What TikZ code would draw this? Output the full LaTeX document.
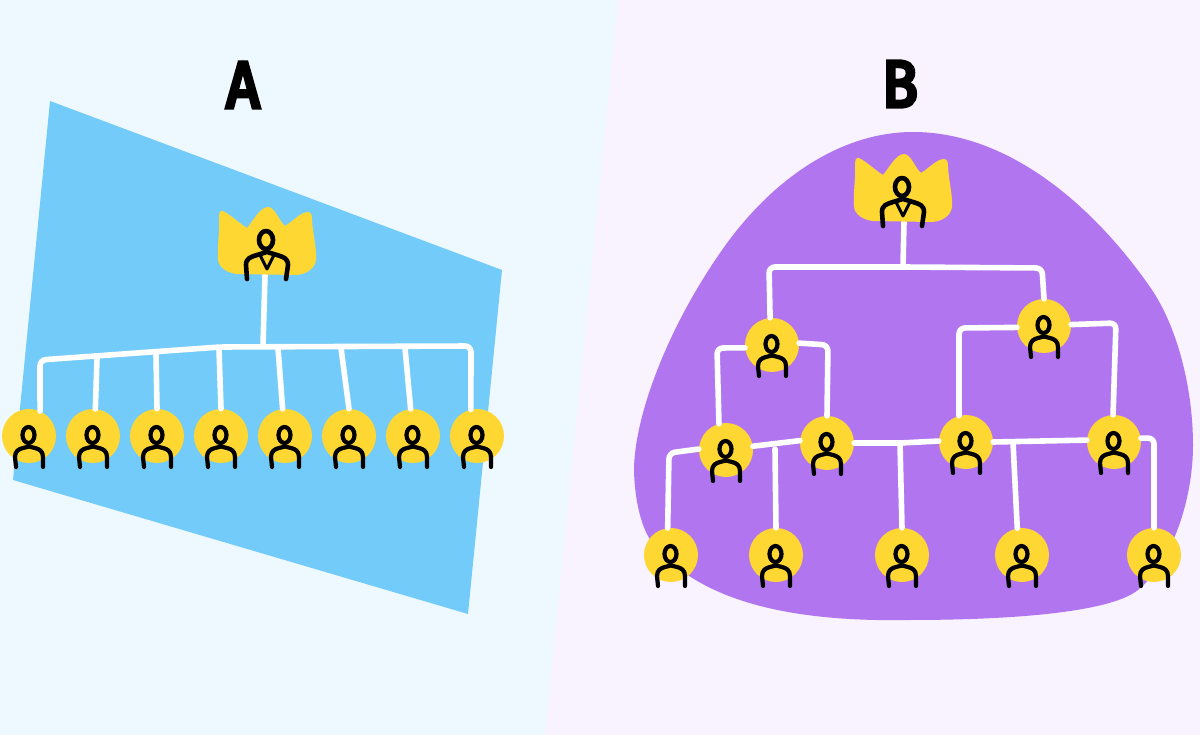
\documentclass[tikz,border=0pt]{standalone}
\usepackage{fontspec}
\newfontfamily\markfont[FakeBold=6,FakeStretch=0.88]{Fira Sans}
\definecolor{leftbg}{HTML}{EEF9FF}
\definecolor{rightbg}{HTML}{F8F3FE}
\definecolor{skyblue}{HTML}{73CBFA}
\definecolor{blobpurple}{HTML}{B175F0}
\definecolor{badge}{HTML}{FFD733}
\tikzset{
	member/.style={circle,fill=badge,minimum size=54pt,inner sep=0pt},
	link/.style={draw=white,line width=5.6pt,rounded corners=6pt,line cap=round},
	grouplabel/.style={font=\markfont\fontsize{66}{66}\selectfont,inner sep=0pt,text=black},
	figure/.style={draw=black,line width=4.2pt,line cap=round,line join=round},
	person/.pic={
		\draw[figure] (-0.5,-1) ellipse (6 and 8);
		\draw[figure] (-13,31)--(-14,21) .. controls (-14,15) and (-10,13) .. (-6,12)--(0,10.5)--(6,12)
			.. controls (10,13) and (14,15) .. (14,21)--(14,31);
	},
	crown/.pic={
		\fill[badge] (-44,-34) .. controls (-36,-30) and (-28,-22) .. (-20,-17)
			.. controls (-14,-24) and (-7,-38) .. (1,-38) .. controls (8,-38) and (12,-24) .. (18,-19)
			.. controls (26,-24) and (34,-33) .. (41,-33) .. controls (45,-33) and (45,-28) .. (45,-25)
			.. controls (46,-10) and (50,5) .. (49,15) .. controls (48,24) and (38,30) .. (28,30)
			--(-30,29) .. controls (-40,28) and (-49,22) .. (-49,14)
			.. controls (-50,0) and (-47,-15) .. (-48,-27) .. controls (-48,-32) and (-47,-35) .. (-44,-34)--cycle;
		\draw[figure,line width=4.6pt] (-1,-5) ellipse (7 and 9);
		\draw[figure,line width=4.6pt] (-20,34)--(-21,20) .. controls (-21,13) and (-16,12) .. (-10,10)--(0,7)
			--(10,10) .. controls (16,12) and (21,13) .. (21,20)--(19,34);
		\draw[figure,line width=3pt] (-7,10)--(0,24)--(7,10);
	}
}
\begin{document}
\begin{tikzpicture}[x=1pt,y=-1pt]
	\useasboundingbox (0,0) rectangle (1200,735);
	% panels
	\fill[leftbg] (0,0) rectangle (1200,735);
	\fill[rightbg] (618,0)--(1200,0)--(1200,735)--(545,735)--cycle;
	\fill[skyblue] (50,101)--(502,270)--(468,614)--(13,480)--cycle;
	\fill[blobpurple] (913,132) .. controls (1010,132) and (1095,208) .. (1150,287)
		.. controls (1178,327) and (1193,390) .. (1193,445)
		.. controls (1193,500) and (1172,562) .. (1138,590)
		.. controls (1108,614) and (1000,620) .. (909,620)
		.. controls (800,622) and (700,605) .. (651,541)
		.. controls (640,525) and (634,495) .. (634,467)
		.. controls (636,410) and (670,325) .. (720,253)
		.. controls (770,180) and (840,132) .. (913,132)--cycle;
	\node[grouplabel] (labelA) at (243,85) {A};
	\node[grouplabel] (labelB) at (900,84) {B};
	% flat group
	\coordinate (bossA) at (265,275);
	\foreach \i/\px in {1/29,2/93,3/157,4/221,5/285,6/349,7/413,8/477}{
		\node[member] (a\i) at (\px,436) {};
	}
	% tree group
	\coordinate (bossB) at (904,222);
	\foreach \i/\px/\py in {1/772/345,2/1044/326,3/726/450,4/827/443,5/966/442,6/1114/442,
		7/671/555,8/776/555,9/902/555,10/1022/555,11/1154/555}{
		\node[member] (b\i) at (\px,\py) {};
	}
	\coordinate (busA) at (263,346);
	\coordinate (busB) at (903,267);
	\coordinate (busC) at (900,443);
	\draw[link] (bossA)--(busA);
	\draw[link] (a1.66)--(40,360)--(220,347)--(471,346)--(a8.103);
	\draw[link] (97,358)--(a2.85);
	\draw[link] (156,354)--(a3.90);
	\draw[link] (219,349)--(a4.90);
	\draw[link] (278,348)--(a5.95);
	\draw[link] (341,348)--(a6.90);
	\draw[link] (405,348)--(a7.95);
	\draw[link] (bossB)--(busB);
	\draw[link] (b1.94)--(769,267)--(busB)--(1042,268)--(b2.90);
	\draw[link] (b3.105)--(717,348)--(b1.186);
	\draw[link] (b1.4)--(828,345)--(b4.90);
	\draw[link] (b5.105)--(959,328)--(b2.183);
	\draw[link] (b2.3)--(1116,323)--(b6.92);
	\draw[link] (b7.97)--(669,453)--(b3.178);
	\draw[link] (b3.8)--(b4.175);
	\draw[link] (b4.0)--(busC)--(b5.178);
	\draw[link] (b5.0)--(b6.176);
	\draw[link] (b6.8)--(1154,438)--(b11.90);
	\draw[link] (775,449)--(b8.90);
	\draw[link] (busC)--(b9.90);
	\draw[link] (1013,442)--(b10.100);
	% people on top
	\foreach \nd in {a1,a2,a3,a4,a5,a6,a7,a8,b1,b2,b3,b4,b5,b6,b7,b8,b9,b10,b11}{
		\pic at (\nd) {person};
	}
	\pic at (267,245) {crown};
	\pic at (903,192) {crown};
\end{tikzpicture}
\end{document}
